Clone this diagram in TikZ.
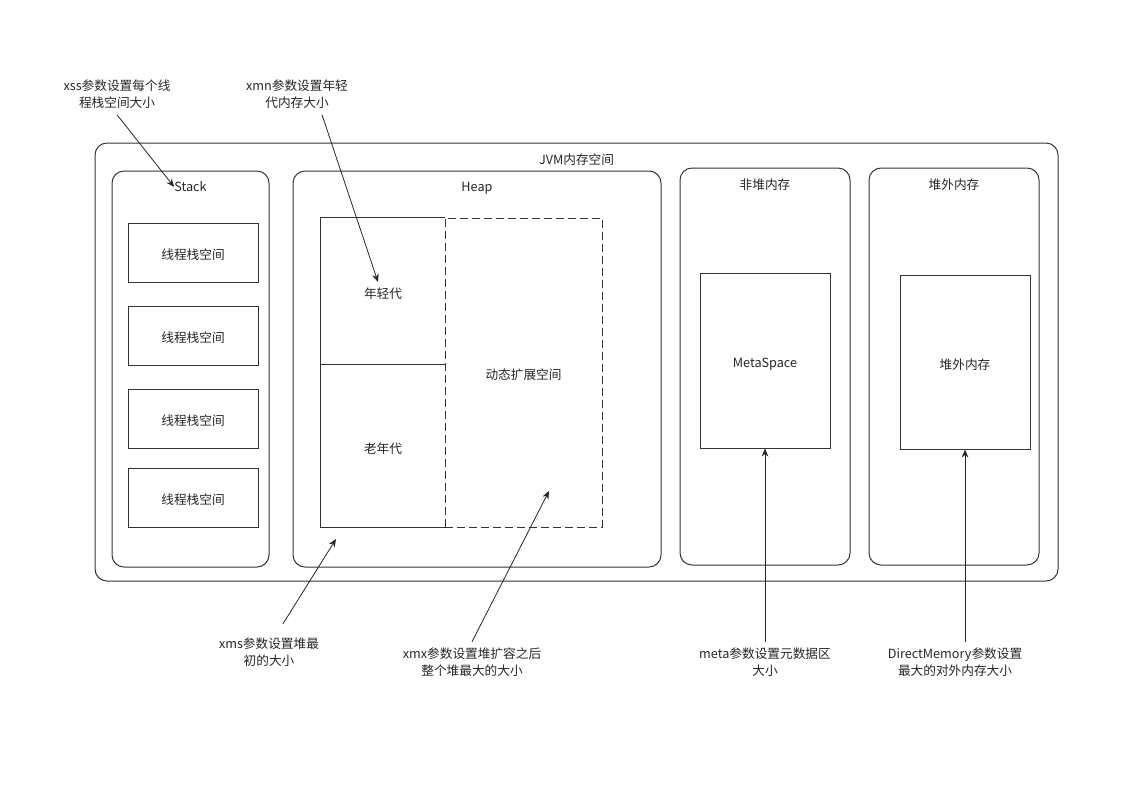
\documentclass[tikz,border=0pt]{standalone}
\usepackage{fontspec}
\setmainfont{Noto Sans CJK SC}
\usetikzlibrary{arrows.meta, positioning}
\tikzstyle{block} = [draw=black!80, line width=0.75pt, rectangle, inner sep=0pt, text height=10.5pt, text depth=0pt]
\tikzstyle{group} = [block, rounded corners=9pt]
\tikzstyle{area} = [block]
\tikzstyle{title} = [inner sep=0pt]
\tikzstyle{note} = [align=center, minimum height=30pt, inner sep=0pt]
\tikzstyle{pointer} = [-{Stealth[length=6pt, width=5pt]}, line width=0.6pt, draw=black!85]

\begin{document}
\begin{tikzpicture}[x=0.75pt, y=-0.75pt, font=\fontsize{9.5}{12.75}\selectfont, text=black!85]
    \useasboundingbox (0,0) rectangle (1123,794);

    % Groups.
    \node (jvm) [group, minimum width=722.25pt, minimum height=328.5pt] at (576.5,362) {};
    \node (stack) [group, minimum width=117.75pt, minimum height=297pt] at (190.5,369) {};
    \node (heap) [group, minimum width=276pt, minimum height=297pt] at (477,369) {};
    \node (nonheap) [group, minimum width=127.5pt, minimum height=297.75pt] at (765,366.5) {};
    \node (offheap) [group, minimum width=127.5pt, minimum height=297.75pt] at (954,366.5) {};

    % Titles.
    \node (jvmT) [title, below=8.25pt of jvm.north] {JVM内存空间};
    \node (stackT) [title, below=8.25pt of stack.north] {Stack};
    \node (heapT) [title, below=8.25pt of heap.north] {Heap};
    \node (nonheapT) [title, below=8.25pt of nonheap.north] {非堆内存};
    \node (offheapT) [title, below=8.25pt of offheap.north] {堆外内存};

    % Thread stacks.
    \foreach \i/\y in {1/252.5, 2/335.5, 3/418.5, 4/497.5} {
        \node (thread\i) [area, minimum width=97.5pt, minimum height=44.25pt] at (193,\y) {线程栈空间};
    }

    % Heap.
    \node (young) [inner sep=0pt, text height=10.5pt, text depth=0pt, minimum width=93pt, minimum height=109.5pt] at (383,291) {年轻代};
    \node (old) [inner sep=0pt, text height=10.5pt, text depth=0pt, below=0pt of young, minimum width=93pt, minimum height=122.25pt] {老年代};
    \draw [line width=0.75pt, black!80] (young.north east) -- (young.north west) -- (old.south west) -- (old.south east);
    \draw [line width=0.75pt, black!80] (young.south west) -- (young.south east);
    \node (dynamic) [area, dash pattern=on 6pt off 3pt, minimum width=117.75pt, minimum height=231.75pt] at (523.5,372.5) {动态扩展空间};

    % Non-heap, off-heap.
    \node (metaspace) [area, minimum width=97.5pt, minimum height=131.25pt] at (765,360.5) {MetaSpace};
    \node (direct) [area, minimum width=97.5pt, minimum height=130.5pt] at (965,362) {堆外内存};

    % Notes.
    \node (xssNote) [note] at (117,94.5) {xss参数设置每个线\\程栈空间大小};
    \node (xmnNote) [note] at (297,94.5) {xmn参数设置年轻\\代内存大小};
    \node (xmsNote) [note] at (269,652) {xms参数设置堆最\\初的大小};
    \node (xmxNote) [note] at (472,662) {xmx参数设置堆扩容之后\\整个堆最大的大小};
    \node (metaNote) [note] at (765,662) {meta参数设置元数据区\\大小};
    \node (dmNote) [note] at (955,662) {DirectMemory参数设置\\最大的对外内存大小};

    % Pointers.
    \coordinate (youngTip) at (378,282);
    \coordinate (xmsTip) at (336,539);
    \coordinate (xmxTip) at (549,491);

    \draw [pointer] (xssNote.south) -- (stackT.west);
    \draw [pointer] ([xshift=18.75pt]xmnNote.south) -- (youngTip);
    \draw [pointer] ([shift={(14,-8)}]xmsNote.north) -- (xmsTip);
    \draw [pointer] (xmxNote.north) -- (xmxTip);
    \draw [pointer] (metaNote.north) -- (metaspace.south);
    \draw [pointer] (dmNote.north -| direct.south) -- (direct.south);
\end{tikzpicture}
\end{document}
